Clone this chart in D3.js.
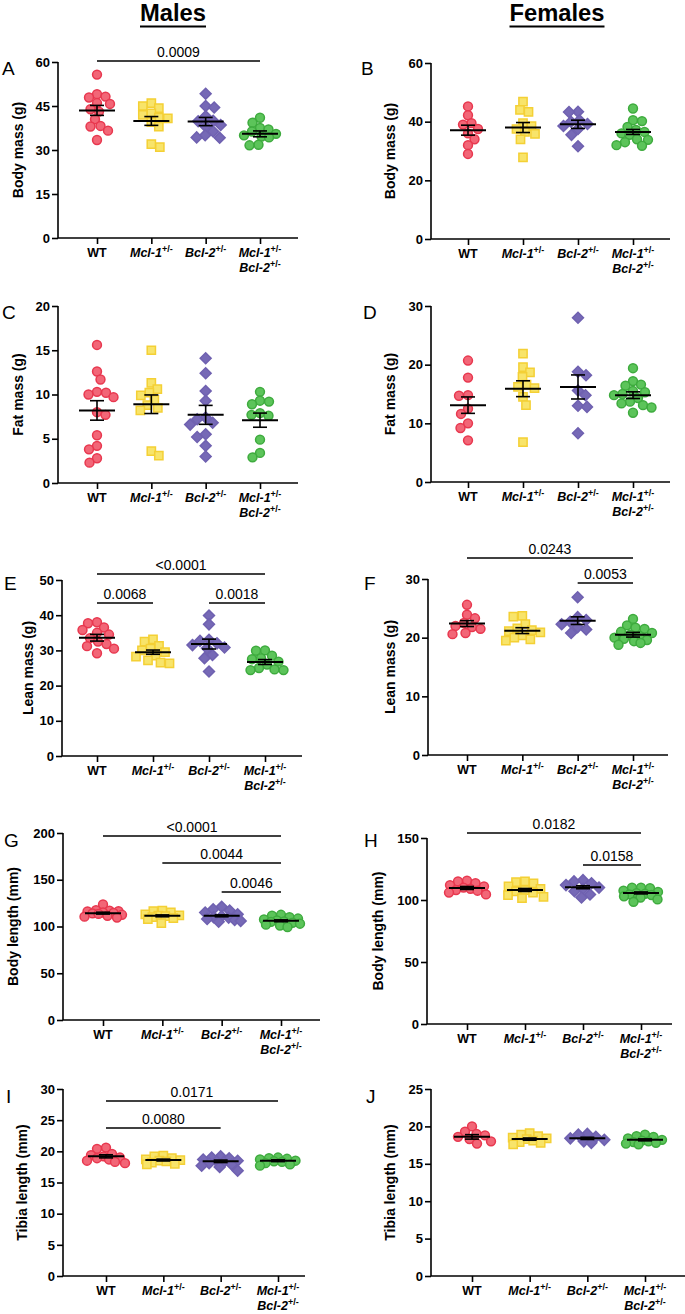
<!DOCTYPE html>
<html><head><meta charset="utf-8">
<script src="https://cdn.jsdelivr.net/npm/d3@7"></script>
<style>body{margin:0;background:#fff}svg{display:block}text{font-family:"Liberation Sans",Arial,sans-serif}</style>
</head><body>
<svg id="c" width="685" height="1314"></svg>
<script>
// ---------------- DATA ----------------
const categories = ["WT", "Mcl-1", "Bcl-2", "Mcl-1/Bcl-2"];

// A: Males body mass (g)
const maleBodyMass = [
  [55.7, 49.0, 48.2, 47.9, 46.0, 45.7, 43.9, 43.1, 40.5, 38.2, 38.0, 36.6, 33.4],
  [46.0, 45.0, 44.3, 42.5, 42.0, 41.0, 40.8, 39.5, 38.0, 32.0, 31.0],
  [49.2, 45.0, 44.5, 41.5, 40.0, 39.8, 38.5, 38.0, 36.3, 35.0, 34.3, 34.2],
  [41.0, 39.3, 37.5, 37.0, 36.3, 35.5, 35.0, 34.6, 34.3, 31.8, 31.6]
];
const maleBodyMassMean = [43.5, 39.9, 39.7, 35.5];
const maleBodyMassSem = [1.7, 1.5, 1.4, 1.0];

// B: Females body mass (g)
const femaleBodyMass = [
  [45.2, 42.2, 39.5, 39.0, 37.5, 36.0, 34.0, 32.0, 29.0],
  [46.8, 44.0, 43.3, 39.5, 38.5, 37.5, 36.5, 35.8, 34.0, 27.8],
  [43.4, 43.3, 40.5, 40.0, 39.2, 38.5, 37.5, 35.5, 31.6],
  [44.5, 40.5, 40.2, 38.2, 37.2, 36.5, 36.0, 35.5, 34.0, 33.8, 33.0, 32.0, 31.8]
];
const femaleBodyMassMean = [37.1, 38.0, 39.1, 36.5];
const femaleBodyMassSem = [1.7, 1.7, 1.4, 0.85];

// C: Males fat mass (g)
const maleFatMass = [
  [15.6, 12.6, 11.7, 10.3, 10.2, 10.0, 9.7, 8.0, 7.7, 5.4, 4.2, 3.8, 2.8, 2.3],
  [15.0, 11.3, 10.6, 10.2, 9.9, 9.4, 8.8, 8.5, 8.2, 3.6, 3.1],
  [14.1, 12.4, 10.4, 9.3, 7.4, 7.2, 6.8, 6.6, 5.5, 5.2, 4.2, 3.0],
  [10.3, 9.3, 9.2, 8.9, 7.9, 7.7, 7.6, 4.9, 3.4, 2.9]
];
const maleFatMassMean = [8.2, 8.9, 7.7, 7.1];
const maleFatMassSem = [1.1, 1.05, 1.07, 0.8];

// D: Females fat mass (g)
const femaleFatMass = [
  [20.7, 17.8, 14.8, 14.7, 12.5, 11.6, 10.0, 9.2, 7.1],
  [21.9, 19.6, 18.7, 17.9, 16.6, 16.2, 16.0, 14.5, 13.1, 6.8],
  [28.0, 18.8, 18.2, 15.6, 14.8, 13.0, 12.8, 8.3],
  [19.4, 17.2, 16.6, 16.4, 15.5, 15.3, 15.0, 14.8, 14.3, 13.7, 13.4, 13.1, 12.7, 11.8]
];
const femaleFatMassMean = [13.1, 15.9, 16.2, 14.8];
const femaleFatMassSem = [1.4, 1.35, 2.05, 0.57];

// E: Males lean mass (g)
const maleLeanMass = [
  [38.0, 37.7, 36.5, 35.8, 35.0, 34.5, 33.5, 32.5, 31.8, 31.2, 30.5, 29.2],
  [33.1, 32.5, 31.3, 30.5, 30.0, 29.5, 28.5, 28.2, 27.2, 26.5, 26.3],
  [39.9, 37.4, 33.0, 32.7, 32.0, 31.5, 30.8, 30.6, 28.7, 27.8, 24.0],
  [30.0, 29.9, 28.5, 27.8, 27.5, 26.8, 26.0, 25.0, 24.6, 24.4, 24.4]
];
const maleLeanMassMean = [33.6, 29.5, 31.8, 26.7];
const maleLeanMassSem = [0.95, 0.6, 1.4, 0.7];

// F: Females lean mass (g)
const femaleLeanMass = [
  [25.6, 23.9, 23.3, 22.5, 22.0, 21.8, 21.5, 20.8, 20.6],
  [23.7, 23.6, 22.3, 21.6, 21.3, 21.1, 20.9, 20.4, 20.0, 19.7, 19.5],
  [26.9, 23.5, 23.0, 22.7, 22.3, 21.8, 21.4, 20.8],
  [23.2, 22.1, 21.7, 21.5, 21.0, 20.8, 20.5, 20.3, 20.0, 19.8, 19.6, 19.4, 19.1, 18.8]
];
const femaleLeanMassMean = [22.4, 21.2, 22.9, 20.5];
const femaleLeanMassSem = [0.5, 0.5, 0.65, 0.4];

// G: Males body length (mm)
const maleBodyLength = [
  [123.5, 117.5, 117, 116.5, 116, 115, 114.5, 114, 113.5, 112.5, 111.5, 110.5, 109.5],
  [117, 116.5, 115, 113, 112, 111.5, 111, 110, 109, 108, 103.5],
  [121, 118.5, 117, 115, 113, 111, 110, 109.5, 108, 107, 106, 105],
  [112.5, 111.5, 110, 108.5, 107.5, 106.5, 105.5, 105, 104, 103, 102, 101, 99.5]
];
const maleBodyLengthMean = [114.3, 111.4, 111.4, 106.1];
const maleBodyLengthSem = [1.0, 1.0, 1.0, 1.0];

// H: Females body length (mm)
const femaleBodyLength = [
  [115.5, 115, 113.5, 112, 111, 110, 109, 108, 107.5, 106, 104.5],
  [115, 114.5, 113.5, 111, 109, 108, 107, 106, 104, 102.5, 101.5],
  [116, 115, 113.5, 112, 110, 109, 107, 104.5, 102],
  [110, 110, 109.5, 107.5, 106.5, 105.5, 105, 104.5, 104, 103, 102, 100.5, 98.5]
];
const femaleBodyLengthMean = [109.7, 108.1, 110.3, 105.7];
const femaleBodyLengthSem = [1.2, 1.2, 1.2, 0.8];

// I: Males tibia length (mm)
const maleTibia = [
  [20.6, 20.4, 19.6, 19.4, 19.2, 19.0, 18.9, 18.7, 18.5, 18.3, 18.1],
  [19.3, 19.2, 18.9, 18.7, 18.6, 18.5, 18.4, 18.2, 18.0, 17.9],
  [19.2, 19.0, 18.9, 18.7, 18.5, 18.4, 18.3, 18.1, 17.9, 17.7, 17.5, 16.9],
  [19.0, 18.9, 18.8, 18.7, 18.5, 18.4, 18.3, 18.1, 17.9, 17.7]
];
const maleTibiaMean = [19.2, 18.6, 18.4, 18.5];
const maleTibiaSem = [0.25, 0.15, 0.2, 0.15];

// J: Females tibia length (mm)
const femaleTibia = [
  [20.0, 19.3, 19.0, 18.8, 18.6, 18.3, 18.0, 17.7],
  [19.1, 18.9, 18.7, 18.5, 18.4, 18.3, 18.1, 17.9, 17.8, 17.6],
  [19.0, 18.9, 18.6, 18.4, 18.2, 18.0, 17.8],
  [18.9, 18.7, 18.6, 18.4, 18.2, 18.1, 18.0, 17.9, 17.8, 17.7, 17.6]
];
const femaleTibiaMean = [18.6, 18.3, 18.4, 18.2];
const femaleTibiaSem = [0.3, 0.15, 0.15, 0.13];

// tick values
const ticksA = [0, 15, 30, 45, 60];
const ticksB = [0, 20, 40, 60];
const ticksC = [0, 5, 10, 15, 20];
const ticksD = [0, 10, 20, 30];
const ticksE = [0, 10, 20, 30, 40, 50];
const ticksF = [0, 10, 20, 30];
const ticksG = [0, 50, 100, 150, 200];
const ticksH = [0, 50, 100, 150];
const ticksI = [0, 5, 10, 15, 20, 25, 30];
const ticksJ = [0, 5, 10, 15, 20, 25];

// significance annotations [text, from group, to group]
const sigA = [["0.0009", 0, 3]];
const sigE = [["<0.0001", 0, 3], ["0.0068", 0, 1], ["0.0018", 2, 3]];
const sigF = [["0.0243", 0, 3], ["0.0053", 2, 3]];
const sigG = [["<0.0001", 0, 3], ["0.0044", 1, 3], ["0.0046", 2, 3]];
const sigH = [["0.0182", 0, 3], ["0.0158", 2, 3]];
const sigI = [["0.0171", 0, 3], ["0.0080", 0, 2]];

// ---------------- STYLE / LAYOUT ----------------
const groupStyle = [
  {sym: d3.symbolCircle, size: 62, fill: "#f26677", stroke: "#e8384f", rot: 0},
  {sym: d3.symbolSquare, size: 68, fill: "#f8e46a", stroke: "#f4d035", rot: 0},
  {sym: d3.symbolSquare, size: 60, fill: "#7669b6", stroke: "#6f61b0", rot: 45},
  {sym: d3.symbolCircle, size: 62, fill: "#5cc45a", stroke: "#3eab3e", rot: 0}
];

const panels = [
  {L:"A", d:maleBodyMass, m:maleBodyMassMean, s:maleBodyMassSem, max:60, ticks:ticksA, yl:"Body mass (g)",
   left:58, right:298, top:62, bottom:238, c0:97, c1:260, lx:2, ly:75, ylx:18, sig:sigA, sy:[61]},
  {L:"B", d:femaleBodyMass, m:femaleBodyMassMean, s:femaleBodyMassSem, max:60, ticks:ticksB, yl:"Body mass (g)",
   left:431, right:670, top:63, bottom:239, c0:468, c1:633, lx:361, ly:75, ylx:390, sig:[], sy:[]},
  {L:"C", d:maleFatMass, m:maleFatMassMean, s:maleFatMassSem, max:20, ticks:ticksC, yl:"Fat mass (g)",
   left:58, right:298, top:306, bottom:483, c0:97, c1:260, lx:2, ly:319, ylx:18, sig:[], sy:[]},
  {L:"D", d:femaleFatMass, m:femaleFatMassMean, s:femaleFatMassSem, max:30, ticks:ticksD, yl:"Fat mass (g)",
   left:431, right:670, top:306, bottom:482, c0:468, c1:633, lx:363, ly:319, ylx:390, sig:[], sy:[]},
  {L:"E", d:maleLeanMass, m:maleLeanMassMean, s:maleLeanMassSem, max:50, ticks:ticksE, yl:"Lean mass (g)",
   left:62, right:302, top:580, bottom:756, c0:97, c1:265, lx:4, ly:590, ylx:28, sig:sigE, sy:[574, 603, 603]},
  {L:"F", d:femaleLeanMass, m:femaleLeanMassMean, s:femaleLeanMassSem, max:30, ticks:ticksF, yl:"Lean mass (g)",
   left:428, right:668, top:579, bottom:755, c0:467, c1:633, lx:364, ly:590, ylx:390, sig:sigF, sy:[558, 583]},
  {L:"G", d:maleBodyLength, m:maleBodyLengthMean, s:maleBodyLengthSem, max:200, ticks:ticksG, yl:"Body length (mm)",
   left:63, right:320, top:833, bottom:1020, c0:103, c1:281, lx:4, ly:847, ylx:13, sig:sigG, sy:[836, 863, 892]},
  {L:"H", d:femaleBodyLength, m:femaleBodyLengthMean, s:femaleBodyLengthSem, max:150, ticks:ticksH, yl:"Body length (mm)",
   left:427, right:672, top:838, bottom:1024, c0:467, c1:641, lx:364, ly:847, ylx:378, sig:sigH, sy:[833, 865]},
  {L:"I", d:maleTibia, m:maleTibiaMean, s:maleTibiaSem, max:30, ticks:ticksI, yl:"Tibia length (mm)",
   left:63, right:305, top:1089, bottom:1276, c0:106, c1:278, lx:6, ly:1103, ylx:22, sig:sigI, sy:[1101, 1128]},
  {L:"J", d:femaleTibia, m:femaleTibiaMean, s:femaleTibiaSem, max:25, ticks:ticksJ, yl:"Tibia length (mm)",
   left:431, right:685, top:1089, bottom:1276, c0:472, c1:645, lx:366, ly:1103, ylx:390, sig:[], sy:[]}
];

const svg = d3.select("#c");

// Titles
[["Males", 173, 66], ["Females", 557, 95]].forEach(([t, cx, w]) => {
  svg.append("text").attr("x", cx - w / 2).attr("y", 21).attr("textLength", w)
    .attr("lengthAdjust", "spacingAndGlyphs").attr("font-size", 24).attr("font-weight", "bold").text(t);
  svg.append("line").attr("x1", cx - w / 2).attr("x2", cx + w / 2).attr("y1", 26.5).attr("y2", 26.5)
    .attr("stroke", "#000").attr("stroke-width", 2);
});

// beeswarm offsets (pixel) computed from values
function swarm(vals, y, d, maxW) {
  const order = vals.map((v, i) => i).sort((a, b) => vals[b] - vals[a]);
  const placed = [], off = new Array(vals.length);
  order.forEach((i, n) => {
    const py = y(vals[i]);
    const sgn = n % 2 ? -1 : 1;
    const cands = [0];
    for (let k = 1; k <= maxW * 2; k++) { cands.push(sgn * k / 2); cands.push(-sgn * k / 2); }
    let best = 0, bestScore = -1;
    for (const o of cands) {
      let mind = Infinity;
      for (const p of placed) mind = Math.min(mind, Math.hypot(o - p.x, py - p.y));
      if (mind >= d) { best = o; bestScore = Infinity; break; }
      if (mind > bestScore + 0.3) { bestScore = mind; best = o; }
    }
    placed.push({x: best, y: py});
    off[i] = best;
  });
  return off;
}

function xLabel(g, x, y, i) {
  const t = g.append("text").attr("x", x).attr("y", y).attr("text-anchor", "middle")
    .attr("font-size", 12.5).attr("font-weight", "bold");
  const sup = (el) => el.append("tspan").attr("font-size", 9).attr("dy", -5).text("+/-");
  if (i === 0) { t.text("WT"); return; }
  if (i === 1 || i === 2) {
    t.append("tspan").attr("font-style", "italic").text(i === 1 ? "Mcl-1" : "Bcl-2");
    sup(t);
    return;
  }
  t.append("tspan").attr("font-style", "italic").text("Mcl-1");
  sup(t);
  const t2 = g.append("text").attr("x", x).attr("y", y + 15).attr("text-anchor", "middle")
    .attr("font-size", 12.5).attr("font-weight", "bold");
  t2.append("tspan").attr("font-style", "italic").text("Bcl-2");
  sup(t2);
}

panels.forEach(p => {
  const g = svg.append("g");
  const y = d3.scaleLinear().domain([0, p.max]).range([p.bottom, p.top]);
  const x = d3.scalePoint().domain(categories).range([p.c0, p.c1]);

  // y axis
  const ya = g.append("g").attr("transform", `translate(${p.left},0)`)
    .call(d3.axisLeft(y).tickValues(p.ticks).tickSize(6).tickPadding(2).tickFormat(d3.format("d")));
  ya.select(".domain").attr("stroke-width", 1.6).attr("d", `M0,${p.top}V${p.bottom}`);
  ya.selectAll(".tick line").attr("stroke-width", 1.6);
  ya.selectAll(".tick text").attr("font-size", 13).attr("font-weight", "bold")
    .attr("font-family", '"Liberation Sans",Arial,sans-serif').attr("fill", "#000");

  // x axis
  const xa = g.append("g").attr("transform", `translate(0,${p.bottom})`)
    .call(d3.axisBottom(x).tickSize(6).tickFormat(""));
  xa.select(".domain").attr("stroke-width", 1.6).attr("d", `M${p.left},0H${p.right}`);
  xa.selectAll(".tick line").attr("stroke-width", 1.6);
  categories.forEach((c, i) => xLabel(g, x(c), p.bottom + 19, i));

  // y label
  g.append("text").attr("transform", `translate(${p.ylx},${(p.top + p.bottom) / 2}) rotate(-90)`)
    .attr("text-anchor", "middle").attr("dominant-baseline", "central")
    .attr("font-size", 14).attr("font-weight", "bold").text(p.yl);

  // panel letter
  g.append("text").attr("x", p.lx).attr("y", p.ly).attr("font-size", 19).text(p.L);

  // points
  categories.forEach((c, i) => {
    const st = groupStyle[i];
    const vals = p.d[i];
    const offs = swarm(vals, y, 8.6, 19);
    const sym = d3.symbol().type(st.sym).size(st.size);
    g.append("g").selectAll("path").data(vals).join("path")
      .attr("d", sym)
      .attr("transform", (v, k) => `translate(${x(c) + offs[k]},${y(v)}) rotate(${st.rot})`)
      .attr("fill", st.fill).attr("stroke", st.stroke).attr("stroke-width", 1.5);
  });

  // mean and SEM
  categories.forEach((c, i) => {
    const cx = x(c), m = p.m[i], s = p.s[i];
    const eg = g.append("g").attr("stroke", "#000").attr("fill", "none");
    eg.append("line").attr("x1", cx - 18).attr("x2", cx + 18).attr("y1", y(m)).attr("y2", y(m)).attr("stroke-width", 2);
    eg.append("line").attr("x1", cx).attr("x2", cx).attr("y1", y(m + s)).attr("y2", y(m - s)).attr("stroke-width", 1.6);
    [m + s, m - s].forEach(v => eg.append("line").attr("x1", cx - 7).attr("x2", cx + 7)
      .attr("y1", y(v)).attr("y2", y(v)).attr("stroke-width", 1.6));
  });

  // significance
  p.sig.forEach((sg, k) => {
    const x1 = x(categories[sg[1]]), x2 = x(categories[sg[2]]), yy = p.sy[k];
    g.append("line").attr("x1", x1).attr("x2", x2).attr("y1", yy).attr("y2", yy)
      .attr("stroke", "#000").attr("stroke-width", 1.3);
    g.append("text").attr("x", (x1 + x2) / 2).attr("y", yy - 4).attr("text-anchor", "middle")
      .attr("font-size", 14).text(sg[0]);
  });
});
</script>
</body></html>
